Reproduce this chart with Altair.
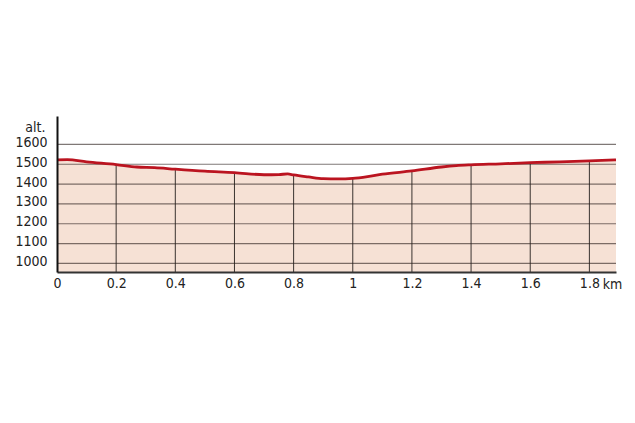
import altair as alt
import pandas as pd

# Elevation profile (km, metres)
km = [0, 0.035, 0.1, 0.2, 0.27, 0.33, 0.4, 0.5, 0.6, 0.7, 0.75, 0.78, 0.8,
      0.85, 0.9, 0.95, 1.0, 1.05, 1.1, 1.2, 1.3, 1.35, 1.4, 1.5, 1.6, 1.7,
      1.8, 1.89]
elev = [1522, 1523, 1512, 1498, 1486, 1483, 1475, 1465, 1458, 1447, 1448,
        1451, 1446, 1436, 1427, 1426, 1429, 1438, 1450, 1466, 1486, 1493,
        1497, 1502, 1508, 1512, 1517, 1522]

x_ticks = [0, 0.2, 0.4, 0.6, 0.8, 1.0, 1.2, 1.4, 1.6, 1.8]
v_grid = [0.2, 0.4, 0.6, 0.8, 1.0, 1.2, 1.4, 1.6, 1.8]
y_ticks = [1000, 1100, 1200, 1300, 1400, 1500, 1600]
y_min, y_max = 957, 1743
x_min, x_max = 0, 1.89

FONT = "DejaVu Sans Condensed, Liberation Sans Narrow, sans-serif"

prof = pd.DataFrame({"km": km, "elev": elev})
vg = pd.DataFrame({"km": v_grid})
hg = pd.DataFrame({"elev": y_ticks})

xs = alt.Scale(domain=[x_min, x_max], nice=False, zero=False)
ys = alt.Scale(domain=[y_min, y_max], nice=False, zero=False)

x_axis = alt.Axis(values=x_ticks, format="~g", grid=False, ticks=False,
                  domainColor="#333333", domainWidth=2, labelFont=FONT,
                  labelFontSize=14, labelColor="#222222", labelPadding=4,
                  labelFlush=False, labelOverlap=False, title="km",
                  titleFont=FONT, titleFontSize=14, titleFontWeight="normal",
                  titleColor="#222222", titleX=555, titleY=16,
                  titleAlign="center", titleBaseline="alphabetic",
                  zindex=2)
y_axis = alt.Axis(values=y_ticks, format="d", grid=False, ticks=False,
                  domainColor="#111111", domainWidth=2, labelFont=FONT,
                  labelFontSize=14, labelColor="#222222", labelPadding=10,
                  labelBaseline="alphabetic", labelOffset=2,
                  labelOverlap=False, title="alt.", titleFont=FONT,
                  titleFontSize=14, titleFontWeight="normal",
                  titleColor="#222222", titleAngle=0, titleX=-12, titleY=15,
                  titleAlign="right", titleBaseline="alphabetic", zindex=2)

fill = alt.Chart(prof).mark_area(color="#f6e1d5", interpolate="monotone").encode(
    x=alt.X("km:Q", scale=xs, axis=x_axis),
    y=alt.Y("elev:Q", scale=ys, axis=y_axis),
    y2=alt.datum(y_min),
)

vrules = alt.Chart(vg).mark_rule(color="#3a3330", strokeWidth=1).encode(
    x=alt.X("km:Q", scale=xs, axis=x_axis)
)

white = alt.Chart(prof).mark_area(color="#ffffff", interpolate="monotone").encode(
    x=alt.X("km:Q", scale=xs, axis=x_axis),
    y=alt.Y("elev:Q", scale=ys, axis=y_axis),
    y2=alt.datum(y_max),
)

hrules = alt.Chart(hg).mark_rule(color="#2a1e1a", opacity=0.6, strokeWidth=1.2).encode(
    y=alt.Y("elev:Q", scale=ys, axis=y_axis)
)

line = alt.Chart(prof).mark_line(color="#bb1420", strokeWidth=2.8,
                                 interpolate="monotone").encode(
    x=alt.X("km:Q", scale=xs, axis=x_axis),
    y=alt.Y("elev:Q", scale=ys, axis=y_axis),
)

chart = alt.layer(fill, vrules, white, hrules, line).properties(
    width=559, height=156,
    autosize=alt.AutoSizeParams(type="none"),
    padding={"left": 49, "top": 108, "right": 10, "bottom": 130},
).configure_view(stroke=None)

chart.save("out.html", embed_options={"renderer": "svg", "actions": False})
